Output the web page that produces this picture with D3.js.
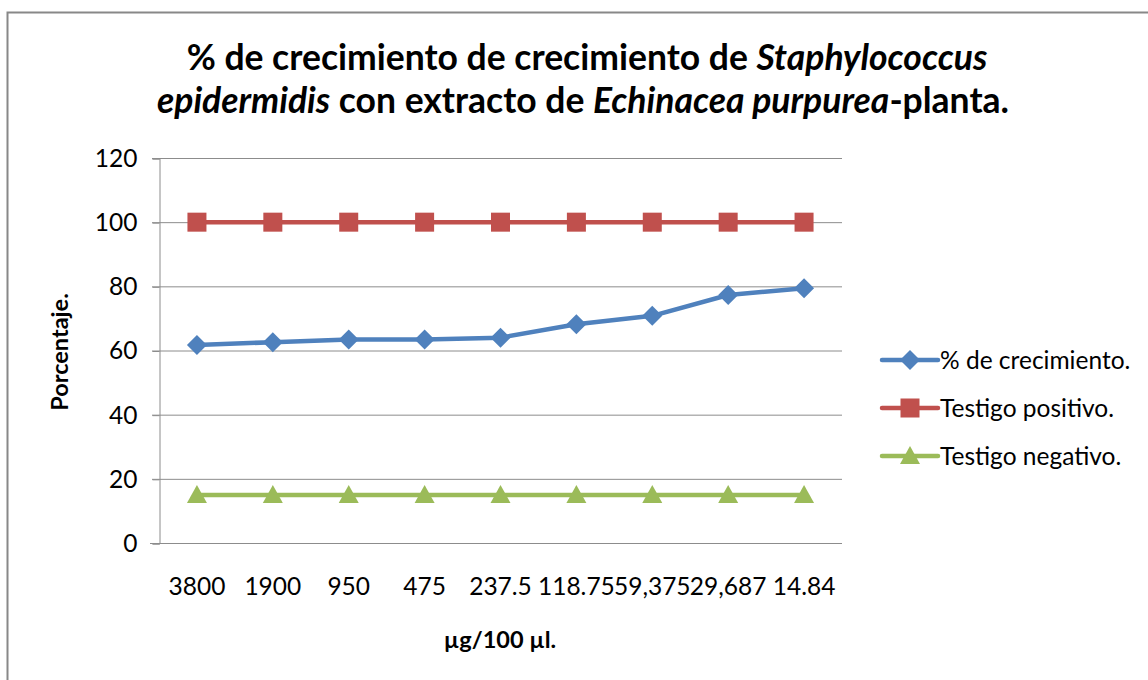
<!DOCTYPE html>
<html>
<head>
<meta charset="utf-8">
<script src="https://cdn.jsdelivr.net/npm/d3@7"></script>
<style>
  body { margin: 0; background: #fff; }
  text { font-family: Lato, "Open Sans", sans-serif; fill: #000; }
</style>
</head>
<body>
<div id="chart"></div>
<script>
// data
const categories = ["3800", "1900", "950", "475", "237.5", "118.75", "59,375", "29,687", "14.84"];
const crecimiento = [61.7, 62.6, 63.4, 63.4, 64.0, 68.2, 70.8, 77.3, 79.4];
const positivo = [100, 100, 100, 100, 100, 100, 100, 100, 100];
const negativo = [15, 15, 15, 15, 15, 15, 15, 15, 15];
const yTicks = [0, 20, 40, 60, 80, 100, 120];

const series = [
  {name: "% de crecimiento.", values: crecimiento, color: "#4F81BD", shape: "diamond"},
  {name: "Testigo positivo.", values: positivo, color: "#C0504D", shape: "square"},
  {name: "Testigo negativo.", values: negativo, color: "#9BBB59", shape: "triangle"}
];

const width = 1148, height = 680;
const plot = {left: 159, right: 842, top: 158, bottom: 543};
const labelSize = "24.5px";

const svg = d3.select("#chart").append("svg")
  .attr("width", width)
  .attr("height", height);

// outer frame
svg.append("rect")
  .attr("x", 7.5).attr("y", 12.5)
  .attr("width", 1150).attr("height", 700)
  .attr("fill", "none")
  .attr("stroke", "#888")
  .attr("stroke-width", 2);

const x = d3.scaleBand()
  .domain(categories)
  .range([plot.left, plot.right]);

const y = d3.scaleLinear()
  .domain([0, 120])
  .range([plot.bottom, plot.top]);

// gridlines
svg.append("g")
  .selectAll("line")
  .data(yTicks.filter(d => d > 0))
  .join("line")
  .attr("x1", plot.left - 7).attr("x2", plot.right)
  .attr("y1", d => y(d) + 0.5).attr("y2", d => y(d) + 0.5)
  .attr("stroke", "#8c8c8c")
  .attr("stroke-width", 1);

// y axis
const yAxis = svg.append("g")
  .attr("transform", `translate(${plot.left + 0.5},0.5)`)
  .call(d3.axisLeft(y).tickValues(yTicks).tickSize(7).tickPadding(15));
yAxis.select(".domain").attr("stroke", "#8c8c8c");
yAxis.selectAll(".tick line").attr("stroke", "#8c8c8c");
yAxis.selectAll("text")
  .style("font-family", "Lato, sans-serif")
  .style("font-size", labelSize)
  .attr("fill", "#000");

// x axis
const xAxis = svg.append("g")
  .attr("transform", `translate(0,${plot.bottom + 0.5})`)
  .call(d3.axisBottom(x).tickSize(0));
xAxis.select(".domain")
  .attr("stroke", "#8c8c8c")
  .attr("d", `M${plot.left - 9},0H${plot.right}`);
xAxis.selectAll("text")
  .attr("y", 51)
  .attr("dy", 0)
  .style("font-family", "Lato, sans-serif")
  .style("font-size", labelSize)
  .attr("fill", "#000");

const cx = d => x(d) + x.bandwidth() / 2;

function marker(g, shape, color, px, py) {
  if (shape === "diamond") {
    g.append("path")
      .attr("d", `M${px},${py - 10}L${px + 10},${py}L${px},${py + 10}L${px - 10},${py}Z`)
      .attr("fill", color);
  } else if (shape === "square") {
    g.append("rect")
      .attr("x", px - 9.5).attr("y", py - 9.5)
      .attr("width", 19).attr("height", 19)
      .attr("fill", color);
  } else {
    g.append("path")
      .attr("d", `M${px},${py - 10}L${px + 10},${py + 8}L${px - 10},${py + 8}Z`)
      .attr("fill", color);
  }
}

// series lines and markers
series.forEach(s => {
  const g = svg.append("g");
  const line = d3.line()
    .x((d, i) => cx(categories[i]))
    .y(d => y(d));
  g.append("path")
    .datum(s.values)
    .attr("d", line)
    .attr("fill", "none")
    .attr("stroke", s.color)
    .attr("stroke-width", 4.5)
    .attr("stroke-linejoin", "round");
  s.values.forEach((v, i) => marker(g, s.shape, s.color, cx(categories[i]), y(v)));
});

// legend
series.forEach((s, i) => {
  const ly = 360 + i * 48;
  const g = svg.append("g");
  g.append("line")
    .attr("x1", 882).attr("x2", 938)
    .attr("y1", ly).attr("y2", ly)
    .attr("stroke", s.color)
    .attr("stroke-width", 4.5)
    .attr("stroke-linecap", "round");
  marker(g, s.shape, s.color, 910, ly);
  g.append("text")
    .attr("x", 940).attr("y", ly + 9)
    .style("font-size", labelSize)
    .text(s.name);
});

// title
const title = svg.append("text")
  .attr("text-anchor", "middle")
  .style("font-size", "35.5px")
  .style("font-weight", "bold");
const t1 = title.append("tspan").attr("x", 587).attr("y", 70);
t1.append("tspan").text("% de crecimiento de crecimiento de ");
t1.append("tspan").style("font-style", "italic").text("Staphylococcus");
const t2 = title.append("tspan").attr("x", 583).attr("y", 113);
t2.append("tspan").style("font-style", "italic").text("epidermidis");
t2.append("tspan").text(" con extracto de ");
t2.append("tspan").style("font-style", "italic").text("Echinacea purpurea");
t2.append("tspan").text("-planta.");

// axis titles
svg.append("text")
  .attr("x", 500).attr("y", 648)
  .attr("text-anchor", "middle")
  .style("font-size", "23.5px")
  .style("font-weight", "bold")
  .text("µg/100 µl.");

svg.append("text")
  .attr("transform", "translate(68,352) rotate(-90)")
  .attr("text-anchor", "middle")
  .style("font-size", "23.5px")
  .style("font-weight", "bold")
  .text("Porcentaje.");
</script>
</body>
</html>
